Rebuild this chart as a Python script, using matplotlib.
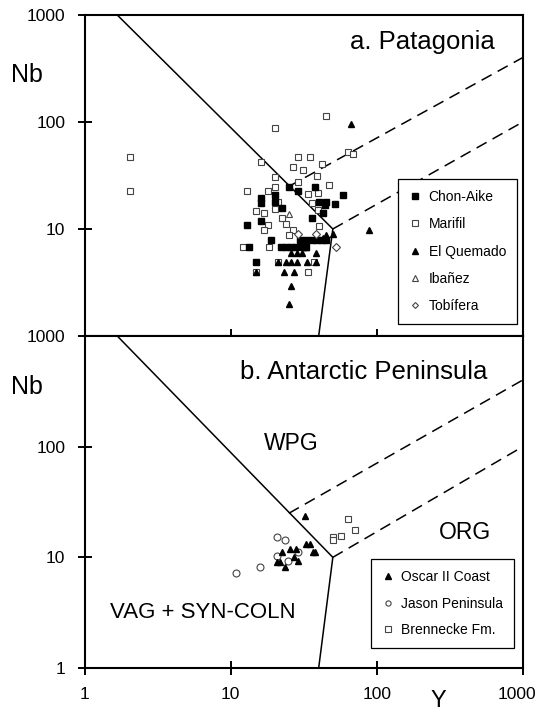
import numpy as np
import matplotlib
matplotlib.use('Agg')
import matplotlib.pyplot as plt
import matplotlib.ticker as plticker
import matplotlib.transforms as mtransforms

plt.rcParams['font.family'] = ['Liberation Sans', 'DejaVu Sans']

# a. Patagonia (Y, Nb)
chon_aike_y = [25, 28.8, 38, 59, 16, 16, 20, 20, 22.3, 40, 45, 44, 51.5, 43, 35.8, 16, 13, 19, 13.3, 15,
               30, 33, 36, 39, 42, 45, 22, 24, 26, 28, 31, 33]
chon_aike_nb = [24.7, 22.6, 24.7, 20.8, 19.5, 17.5, 20.8, 17.9, 15.7, 17.9, 17.9, 16.8, 17.1, 14, 12.6, 11.9, 10.9, 7.9, 6.8, 4.9,
                7.9, 7.9, 7.9, 7.9, 7.9, 7.9, 6.8, 6.8, 6.8, 6.8, 6.8, 6.8]
marifil_y = [2.03, 2.03, 20, 44.8, 64, 68.5, 16, 28.8, 35, 26.5, 31, 42, 20, 38.7, 29, 46.8, 20, 13, 17.9, 34,
             39.4, 21, 15, 17, 20, 22.3, 35.8, 39.4, 17.9, 16.8, 24, 26.5, 25, 40, 12.1, 18.2, 37, 34, 15, 21]
marifil_nb = [47, 22.6, 88, 114, 52, 50, 42, 47, 47, 38, 35.6, 40.5, 30.6, 31, 27.5, 25.7, 24.7, 22.6, 22.6, 21.2,
              21.7, 17.9, 14.7, 14, 15.4, 12.6, 17.5, 15, 10.9, 9.8, 11.1, 9.8, 8.8, 10.6, 6.8, 6.8, 4.9, 3.96, 3.96, 4.9]
quemado_y = [67, 88, 50, 44.6, 43, 38.6, 33, 26, 28.3, 30.6, 21, 24, 26, 28.3, 33.5, 38.6, 15, 23, 27, 26, 25]
quemado_nb = [95.6, 9.8, 9, 8.8, 8.2, 6, 6.8, 6, 6, 6, 4.9, 4.9, 4.9, 4.9, 4.9, 4.9, 4, 4, 4, 2.93, 2.0]
ibanez_y = [25]
ibanez_nb = [13.8]
tobifera_y = [29, 38.6, 52.3]
tobifera_nb = [9, 9, 6.8]

# b. Antarctic Peninsula (Y, Nb)
oscar_y = [32, 25.4, 28, 33, 34.7, 36.5, 38, 22.6, 27, 29, 20.6, 21.6, 23.7]
oscar_nb = [23.4, 12, 12, 13.3, 13.3, 11.1, 11.1, 11.1, 10, 9.2, 9, 9, 8.1]
jason_y = [10.8, 15.8, 20.6, 23.7, 20.6, 24.6, 29]
jason_nb = [7.2, 8.1, 15.2, 14.2, 10.2, 9.2, 11.1]
brennecke_y = [64, 70.5, 50, 50, 56.5]
brennecke_nb = [22, 17.8, 15.2, 14.2, 15.5]

# Pearce et al. (1984) field boundaries
solid_y = [1, 50, 40]
solid_nb = [2000, 10, 1]
dash1_y = [50, 1000]
dash1_nb = [10, 100]
dash2_y = [25, 1000]
dash2_nb = [25, 400]

ticks = [1, 10, 100, 1000]
tick_labels = ['1', '10', '100', '1000']

fig = plt.figure(figsize=(5.4, 7.13), dpi=100)
ax1 = fig.add_axes([0.157, 0.5288, 0.8111, 0.4502])
ax2 = fig.add_axes([0.157, 0.0631, 0.8111, 0.4657])

for ax in (ax1, ax2):
	ax.plot(solid_y, solid_nb, color='black', lw=1.1, zorder=1)
	ax.plot(dash1_y, dash1_nb, color='black', lw=1.1, dashes=(7.5, 4.5), zorder=1)
	ax.plot(dash2_y, dash2_nb, color='black', lw=1.1, dashes=(7.5, 4.5), zorder=1)
	ax.set_xscale('log')
	ax.set_yscale('log')
	ax.set_xlim(1, 1000)
	ax.set_ylim(1, 1000)
	ax.xaxis.set_major_locator(plticker.FixedLocator(ticks))
	ax.yaxis.set_major_locator(plticker.FixedLocator(ticks))
	ax.xaxis.set_minor_locator(plticker.NullLocator())
	ax.yaxis.set_minor_locator(plticker.NullLocator())
	ax.tick_params(direction='inout', length=10, width=1.4, labelsize=12.5, pad=9)
	for s in ax.spines.values():
		s.set_linewidth(1.5)

ms = 5
ax1.plot(marifil_y, marifil_nb, 's', mfc='white', mec='#444444', mew=0.8, ms=ms, ls='none', label='Marifil', zorder=2)
ax1.plot(chon_aike_y, chon_aike_nb, 's', mfc='black', mec='black', ms=ms, ls='none', label='Chon-Aike', zorder=3)
ax1.plot(quemado_y, quemado_nb, '^', mfc='black', mec='black', ms=ms, ls='none', label='El Quemado', zorder=4)
ax1.plot(ibanez_y, ibanez_nb, '^', mfc='white', mec='#444444', mew=0.8, ms=ms, ls='none', label='Ibañez', zorder=4)
ax1.plot(tobifera_y, tobifera_nb, 'D', mfc='white', mec='#444444', mew=0.8, ms=4, ls='none', label='Tobífera', zorder=4)

h, l = ax1.get_legend_handles_labels()
order = [1, 0, 2, 3, 4]
leg1 = ax1.legend([h[i] for i in order], [l[i] for i in order], loc='upper left', bbox_to_anchor=(0.715, 0.489),
                  fontsize=10, frameon=True, fancybox=False, edgecolor='black', markerscale=0.75, framealpha=1,
                  labelspacing=0.95, handlelength=0.9, handletextpad=0.5, borderpad=0.8, borderaxespad=0)
leg1.get_frame().set_linewidth(0.9)

ax1.set_xticklabels([])
ax1.set_yticklabels(['', '10', '100', '1000'])
ax1.text(0.936, 0.916, 'a. Patagonia', transform=ax1.transAxes, ha='right', va='center', fontsize=18.5)

ax2.plot(oscar_y, oscar_nb, '^', mfc='black', mec='black', ms=ms, ls='none', label='Oscar II Coast', zorder=4)
ax2.plot(jason_y, jason_nb, 'o', mfc='white', mec='#444444', mew=0.8, ms=ms, ls='none', label='Jason Peninsula', zorder=3)
ax2.plot(brennecke_y, brennecke_nb, 's', mfc='white', mec='#444444', mew=0.8, ms=ms, ls='none', label='Brennecke Fm.', zorder=3)
leg2 = ax2.legend(loc='upper left', bbox_to_anchor=(0.653, 0.328),
                  fontsize=10, frameon=True, fancybox=False, edgecolor='black', markerscale=0.75, framealpha=1,
                  labelspacing=0.9, handlelength=0.9, handletextpad=0.5, borderpad=0.8, borderaxespad=0)
leg2.get_frame().set_linewidth(0.9)

ax2.set_xticklabels(tick_labels)
ax2.set_yticklabels(tick_labels)
# last x label sits a little inside the right edge
last = ax2.get_xticklabels()[-1]
last.set_transform(last.get_transform() + mtransforms.ScaledTranslation(-6 / 100, 0, fig.dpi_scale_trans))

ax2.text(0.354, 0.89, 'b. Antarctic Peninsula', transform=ax2.transAxes, ha='left', va='center', fontsize=18.5)
ax2.text(0.472, 0.677, 'WPG', transform=ax2.transAxes, ha='center', va='center', fontsize=16.5)
ax2.text(0.868, 0.407, 'ORG', transform=ax2.transAxes, ha='center', va='center', fontsize=16.5)
ax2.text(0.27, 0.166, 'VAG + SYN-COLN', transform=ax2.transAxes, ha='center', va='center', fontsize=16)

fig.text(27 / 540, 1 - 75 / 713, 'Nb', ha='center', va='center', fontsize=18)
fig.text(27 / 540, 1 - 387 / 713, 'Nb', ha='center', va='center', fontsize=18)
fig.text(438 / 540, 1 - 701 / 713, 'Y', ha='center', va='center', fontsize=17)

plt.savefig('out.png', dpi=100)
plt.close()
